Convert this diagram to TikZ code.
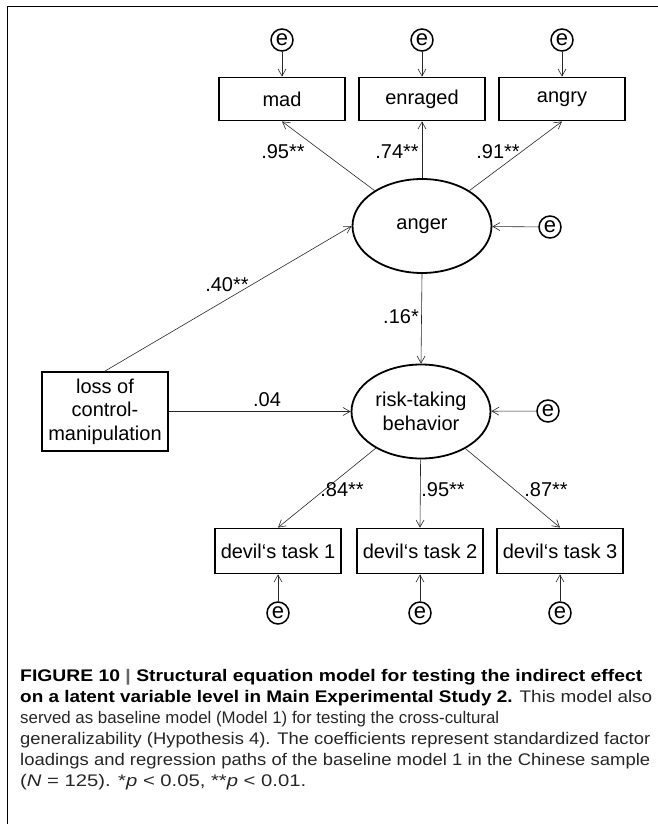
\documentclass[tikz,border=0pt]{standalone}
\usepackage{fontspec}
\setmainfont{Liberation Sans}
\usetikzlibrary{arrows.meta,shapes.geometric}
\newcommand{\capline}[2]{\resizebox{#1pt}{\height}{#2}}
\begin{document}
\begin{tikzpicture}[x=1pt,y=-1pt,
  font=\fontsize{20}{23.5}\selectfont,
  obs/.style={draw,line width=1.9pt,minimum width=126pt,minimum height=43pt,inner sep=0pt,align=center},
  lat/.style={draw,ellipse,line width=1.8pt,minimum width=139pt,minimum height=94pt,inner sep=0pt,align=center},
  err/.style={draw,circle,line width=1.5pt,minimum size=22pt,inner sep=0pt,font=\fontsize{22}{22}\selectfont},
  pth/.style={line width=0.6pt,draw=black!85,-{Straight Barb[length=7pt,width=8pt,line width=0.6pt]}},
  coef/.style={inner sep=0pt},
  capt/.style={anchor=base west,inner sep=0pt,font=\fontsize{16.8}{21}\selectfont,text=black!85}
]
\useasboundingbox (0,0) rectangle (658,824);
\draw[line width=1.8pt] (7.5,824) -- (7.5,6.5) -- (658,6.5);

% indicators of anger
\node[err] (e1) at (282,40) {e};
\node[err] (e2) at (422,40) {e};
\node[err] (e3) at (562,40) {e};
\node[obs] (mad) at (282,99) {mad};
\node[obs] (enr) at (422,99) {enraged};
\node[obs] (ang) at (562,99) {angry};

% latent variables
\node[lat] (anger) at (422,226) {anger};
\node[err] (ea) at (550,227) {e};
\node[lat] (risk) at (421,411.5) {risk-taking\\behavior};
\node[err] (er) at (548,411) {e};

% predictor
\node[obs,minimum height=79pt] (loss) at (105,411.5) {loss of\\control-\\manipulation};

% indicators of risk-taking
\node[obs,minimum height=45pt] (d1) at (278,551) {devil‘s task 1};
\node[obs,minimum height=45pt] (d2) at (420,551) {devil‘s task 2};
\node[obs,minimum height=45pt] (d3) at (560,551) {devil‘s task 3};
\node[err] (f1) at (278,613) {e};
\node[err] (f2) at (420,613) {e};
\node[err] (f3) at (560,613) {e};

% connectors
\draw[pth] (e1) -- (mad);
\draw[pth] (e2) -- (enr);
\draw[pth] (e3) -- (ang);
\draw[pth] (anger) -- (mad.south);
\draw[pth] (anger.north) -- (enr.south);
\draw[pth] (anger) -- (ang.south);
\draw[pth] (ea) -- (anger);
\draw[pth] (loss.north) -- (anger.west);
\draw[pth] (loss.east) -- (risk.west);
\draw[pth] (anger.south) -- (risk.north);
\draw[pth] (er) -- (risk);
\draw[pth] (risk) -- (d1.north);
\draw[pth] (risk) -- (d2.north);
\draw[pth] (risk) -- (d3.north);
\draw[pth] (f1) -- (d1);
\draw[pth] (f2) -- (d2);
\draw[pth] (f3) -- (d3);

% coefficients
\node[coef] (c1) at (283,152) {.95**};
\node[coef] (c2) at (397,152) {.74**};
\node[coef] (c3) at (498,152) {.91**};
\node[coef] (c4) at (227,285) {.40**};
\node[coef] (c5) at (401,317) {.16*};
\node[coef] (c6) at (267,400) {.04};
\node[coef] (c7) at (342,490) {.84**};
\node[coef] (c8) at (443,490) {.95**};
\node[coef] (c9) at (546,490) {.87**};

% caption
\node[capt,text=black] (l1) at (20,681) {\capline{622}{\textbf{FIGURE 10 {\color{black!60}|} Structural equation model for testing the indirect effect}}};
\node[capt] (l2) at (20,702) {\capline{632}{{\color{black}\textbf{on a latent variable level in Main Experimental Study 2.}} This model also}};
\node[capt] (l3) at (20,723) {\capline{479}{served as baseline model (Model 1) for testing the cross-cultural}};
\node[capt] (l4) at (20,744) {\capline{630}{generalizability (Hypothesis 4). The coefficients represent standardized factor}};
\node[capt] (l5) at (20,765) {\capline{630}{loadings and regression paths of the baseline model 1 in the Chinese sample}};
\node[capt] (l6) at (20,786) {\capline{286}{({\itshape N} = 125). *{\itshape p} < 0.05, **{\itshape p} < 0.01.}};
\end{tikzpicture}
\end{document}
